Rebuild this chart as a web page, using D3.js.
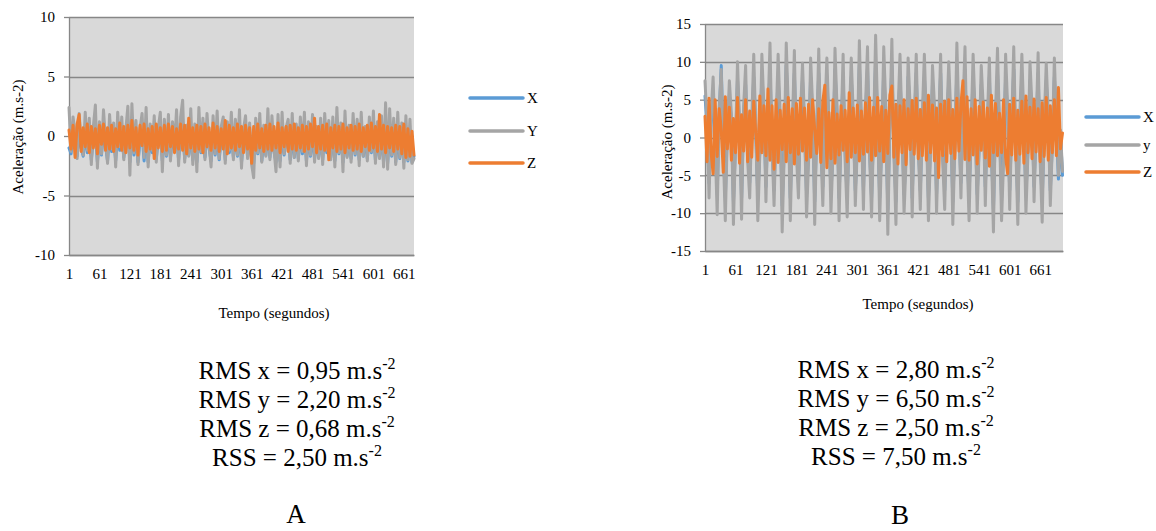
<!DOCTYPE html>
<html><head><meta charset="utf-8">
<script src="https://cdn.jsdelivr.net/npm/d3@7"></script>
<style>
body{margin:0;background:#fff;}
svg{display:block;}
svg text{font-family:"Liberation Serif","Times New Roman",Tinos,"DejaVu Serif",serif;}
</style></head><body>
<svg id="c" width="1156" height="531" font-family="Liberation Serif, Times New Roman, serif"></svg>
<script>
// ---------- data ----------
const xTickLabels = [1,61,121,181,241,301,361,421,481,541,601,661];
const yTicksA = [-10,-5,0,5,10];
const yTicksB = [-15,-10,-5,0,5,10,15];
const legendA = ["X","Y","Z"];
const legendB = ["X","y","Z"];
const sampleStep = 4; // seconds between plotted samples

// Chart A (samples every 4 s, t = 1 .. 681)
const aX = [
-1.0,-1.5,0.2,-0.5,-1.7,0.3,-1.0,-1.7,0.2,-1.4,
0.1,-2.0,-0.2,0.3,-2.2,0.0,-1.6,0.3,-0.8,-2.1,
0.2,-1.3,0.0,-2.1,0.3,-1.2,0.1,-1.8,-0.3,0.4,
-2.2,0.4,-1.6,0.0,-2.2,-0.4,0.2,-2.1,0.3,-2.2,
-0.1,-1.4,0.2,-1.9,-0.3,0.3,-2.1,0.1,-1.7,0.2,
-1.8,0.0,-1.1,0.3,-2.0,0.1,0.4,-1.9,-0.2,-1.6,
0.3,-2.0,-0.1,-2.2,0.3,-1.4,0.1,-1.8,0.2,-1.0,
-2.1,0.2,-1.6,0.3,-2.0,-0.2,0.1,-2.0,0.0,-1.4,
0.2,-1.8,0.1,-1.7,0.3,-2.2,-0.4,0.2,-1.7,0.0,
-2.0,-2.3,0.1,-1.5,0.2,-2.1,-0.2,-1.6,0.3,-1.8,
0.2,-1.3,-2.2,0.2,-2.1,0.3,-1.6,-0.3,0.1,-2.0,
0.2,-1.8,-0.1,-1.9,0.1,-1.5,0.3,-2.1,0.0,-1.7,
0.2,-1.9,-0.2,-1.8,0.1,-2.0,0.2,-1.4,0.0,-1.8,
0.1,-2.1,0.3,-1.5,0.0,-2.2,0.3,-1.7,-0.2,-1.9,
0.2,-1.6,0.1,-2.0,0.3,-1.7,-0.2,-1.9,0.1,-1.4,
0.3,-2.0,0.0,-1.8,0.2,-2.2,0.4,-2.3,0.3,-1.7,
0.1,-2.2,0.2,-1.9,0.0,-2.2,0.2,-2.1,0.0,-2.2,
-1.7];
const aY = [
2.4,-1.3,1.6,0.2,-1.9,1.9,-0.6,-1.6,2.0,-1.2,
1.5,-2.4,0.8,2.6,-2.7,1.2,-1.5,2.2,-0.4,-2.3,
1.8,-1.1,1.1,-2.6,2.0,-0.9,1.6,-2.0,0.5,2.5,
-3.3,2.7,-1.4,1.3,-2.4,0.6,1.9,-1.8,2.4,-2.6,
1.0,-1.2,1.7,-2.2,0.7,2.0,-3.0,1.4,-1.6,1.8,
-2.1,1.2,-0.8,2.2,-2.5,1.6,3.0,-2.2,0.9,-1.7,
2.3,-2.4,1.0,-3.0,2.4,-1.3,1.5,-2.0,1.9,-0.7,
-2.6,1.7,-1.5,2.1,-1.9,0.8,1.6,-2.3,1.2,-1.2,
2.0,-2.0,1.4,-1.6,2.2,-2.7,0.6,1.7,-1.9,1.1,
-2.4,-3.5,1.5,-1.4,1.9,-2.2,0.9,-1.7,2.3,-2.0,
1.7,-1.1,-3.0,1.8,-2.6,2.0,-1.5,0.7,1.4,-2.3,
1.9,-1.8,1.0,-2.1,1.6,-1.3,2.0,-2.5,1.2,-1.6,
1.8,-2.2,0.8,-1.9,1.5,-2.4,1.9,-1.2,1.3,-2.0,
1.6,-2.6,2.4,-1.4,1.1,-3.0,2.1,-1.8,0.9,-2.2,
1.9,-1.5,1.4,-2.5,2.0,-1.7,0.8,-2.1,1.6,-1.3,
2.1,-2.3,1.2,-1.9,1.7,-2.6,2.8,-2.8,2.3,-1.6,
1.5,-2.4,2.0,-1.8,1.1,-2.7,1.7,-2.0,1.4,-2.3,
-1.9];
const aZ = [
0.5,-1.1,0.9,-1.8,1.0,1.8,-1.3,0.7,-0.9,1.0,
-1.4,0.8,-1.0,0.6,-1.5,0.9,-0.7,1.0,-1.2,0.7,
-1.1,0.9,-1.3,0.6,-0.9,1.1,-1.2,0.8,-1.4,0.9,
-1.0,1.3,-1.2,0.7,-1.6,0.9,-0.8,1.0,-1.3,0.6,
-1.1,0.8,-1.9,1.0,-1.0,0.7,-1.3,0.9,-1.2,1.0,
-0.9,0.8,-1.4,0.6,-1.1,1.0,-1.2,0.9,-1.5,1.5,
-1.0,0.7,-1.3,0.9,-1.1,0.8,-1.4,1.0,-0.9,0.7,
-1.2,1.1,-1.0,0.8,-1.3,0.6,-1.1,1.3,-1.5,0.9,
-1.0,0.7,-1.2,1.0,-0.9,0.8,-1.4,0.9,-1.1,0.7,
-2.3,0.8,-1.2,1.0,-1.0,0.6,-1.3,0.9,-1.1,1.0,
-1.2,0.8,-1.0,1.1,-1.4,0.7,-0.9,0.8,-1.3,0.9,
-1.1,1.0,-1.2,0.7,-1.0,0.9,-1.3,0.8,-1.1,1.0,
-0.9,1.5,-1.4,0.8,-1.1,0.9,-1.2,1.0,-2.0,0.7,
-1.0,0.9,-1.3,0.8,-1.1,1.0,-1.4,0.7,-1.0,0.9,
-1.2,0.8,-1.1,1.0,-1.3,0.7,-0.9,0.9,-1.2,1.1,
-1.0,0.8,-1.3,1.8,-1.1,0.9,-1.4,0.8,-1.0,0.7,
-1.3,0.9,-1.1,0.8,-1.5,1.0,-1.8,0.6,-1.7,0.4,
-1.6];

// Chart B (samples every 4 s, t = 1 .. 705)
const bX = [
5.5,1.5,-6.0,2.0, 6.0,-1.0,-7.5,3.0,
9.5,-1.5,-8.0,1.0, 5.5,2.0,-8.5,-1.0,
7.5,1.5,-8.0,3.0, 7.0,-2.0,-6.0,1.5,
8.0,1.0,-8.0,-1.5, 8.5,3.0,-6.5,2.0,
9.0,-1.0,-7.0,1.5, 8.0,2.0,-9.0,-1.5,
9.5,3.0,-8.0,1.0, 8.5,-1.5,-6.0,2.0,
7.5,1.5,-7.5,-2.0, 8.0,3.0,-8.5,1.0,
8.5,-1.0,-6.5,2.0, 8.0,1.5,-7.5,-1.5,
9.0,3.0,-8.0,1.0, 8.0,-2.0,-8.0,1.5,
8.0,2.0,-7.0,-1.0, 9.5,1.5,-7.0,3.0,
9.0,-1.5,-8.0,1.0, 10.0,2.0,-8.0,-1.0,
9.0,3.0,-9.5,1.5, 9.5,-1.5,-8.5,2.0,
8.0,1.0,-7.5,-2.0, 8.0,3.0,-8.0,1.5,
8.5,-1.0,-7.0,2.0, 8.0,1.5,-8.0,-1.5,
7.0,3.0,-7.5,1.0, 8.5,-2.0,-7.0,1.5,
7.5,2.0,-8.5,-1.0, 9.0,1.5,-6.0,3.0,
9.0,-1.5,-8.0,1.0, 8.0,2.0,-7.5,-1.0,
7.0,3.0,-6.5,1.5, 8.0,-1.5,-9.5,2.0,
8.5,1.0,-8.0,-2.0, 8.0,3.0,-7.0,1.5,
9.0,-1.0,-8.5,2.0, 8.0,1.5,-7.5,-1.5,
7.5,3.0,-6.5,1.0, 8.5,-2.0,-8.5,1.5,
7.5,2.0,-7.0,-1.0, 8.0,1.5,-5.5,0.5,
-5.0];
const bY = [
7.5,2.0,-8.0,3.0, 8.0,-1.0,-10.2,4.0,
9.0,-2.0,-11.0,1.0, 7.5,3.0,-11.5,-1.0,
10.0,2.0,-10.8,4.0, 9.5,-3.0,-8.0,2.0,
11.0,1.0,-11.0,-2.0, 11.0,4.0,-8.5,3.0,
12.5,-1.0,-9.0,2.0, 11.0,3.0,-12.5,-2.0,
12.5,4.0,-11.0,1.0, 11.5,-2.0,-8.0,3.0,
9.8,2.0,-10.5,-3.0, 10.5,4.0,-11.5,1.0,
11.7,-1.0,-9.0,3.0, 10.5,2.0,-10.0,-2.0,
11.8,4.0,-11.0,1.0, 11.0,-3.0,-10.5,2.0,
10.5,3.0,-9.0,-1.0, 12.8,2.0,-9.5,4.0,
12.0,-2.0,-10.5,1.0, 13.5,3.0,-11.0,-1.0,
12.0,4.0,-12.8,2.0, 13.0,-2.0,-11.5,3.0,
11.0,1.0,-10.0,-3.0, 10.5,4.0,-10.5,2.0,
11.0,-1.0,-9.5,3.0, 11.0,2.0,-11.0,-2.0,
9.5,4.0,-10.0,1.0, 11.0,-3.0,-9.5,2.0,
10.0,3.0,-11.5,-1.0, 12.5,2.0,-8.0,4.0,
12.0,-2.0,-11.0,1.0, 11.0,3.0,-10.0,-1.0,
9.5,4.0,-9.0,2.0, 10.5,-2.0,-12.5,3.0,
11.8,1.0,-11.0,-3.0, 11.0,4.0,-9.5,2.0,
12.0,-1.0,-11.5,3.0, 11.0,2.0,-10.0,-2.0,
10.0,4.0,-8.5,1.0, 11.2,-3.0,-11.2,2.0,
9.8,3.0,-9.0,-1.0, 10.5,2.0,-5.0,1.0,
-4.5];
const bZ = [
2.8,-3.2,5.2,-2.0,-4.8,5.0,-2.5,3.8,1.0,-4.6,
5.4,-1.5,4.0,-3.0,2.5,-2.0,5.3,-3.4,3.0,-1.8,
5.0,-3.2,3.5,-2.6,4.8,0.5,-3.0,5.5,-2.0,4.2,
-2.4,6.4,-3.0,4.2,-4.2,5.0,-3.3,3.6,-1.6,4.4,
-3.2,5.3,-2.0,3.8,-3.5,4.5,-2.2,5.2,-1.8,3.9,
-3.0,4.4,-2.6,5.0,1.0,-2.1,3.8,-3.3,4.8,6.9,
-4.0,3.3,-2.8,5.0,-3.4,3.1,-2.3,4.2,-1.7,3.6,
-3.2,5.9,-2.6,3.9,-2.0,4.3,-3.1,3.5,-2.2,4.6,
-1.9,5.3,-3.0,4.0,-2.4,5.3,-1.8,4.1,-3.2,3.6,
-2.1,5.6,6.8,-2.6,4.4,-3.5,4.2,-2.0,5.0,-3.6,
3.8,-1.6,4.9,-2.2,5.2,-2.8,3.7,-2.4,4.6,-3.0,
5.6,-2.0,4.3,-3.1,3.9,-5.3,4.4,-2.4,4.8,-3.2,
5.0,-2.1,3.7,-2.8,5.2,-1.8,4.4,7.5,-2.9,5.4,
-3.0,3.8,-2.3,5.0,-3.5,4.1,-1.7,4.7,-2.7,3.9,
-3.8,5.6,-2.0,4.5,-2.4,3.2,-2.0,5.0,-2.6,-4.8,
4.4,-2.3,5.2,-3.0,3.6,-2.2,4.8,-3.4,5.5,-2.0,
4.0,-2.8,5.1,-1.9,3.8,-3.2,4.6,-2.5,5.3,-3.0,
4.2,-2.0,5.0,-2.4,6.6,-1.5,0.6];

const statsA = [["RMS x = 0,95 m.s","-2"],["RMS y = 2,20 m.s","-2"],["RMS z = 0,68 m.s","-2"],["RSS = 2,50 m.s","-2"]];
const statsB = [["RMS x = 2,80 m.s","-2"],["RMS y = 6,50 m.s","-2"],["RMS z = 2,50 m.s","-2"],["RSS = 7,50 m.s","-2"]];

const colors = ["#5B9BD5","#A5A5A5","#ED7D31"];
const gridColor = "#878787";
const FONT = "Liberation Serif, Times New Roman, Tinos, DejaVu Serif, serif";

// ---------- drawing ----------
const svg = d3.select("#c");

function drawChart(cfg){
  const g = svg.append("g").attr("font-family", FONT);
  const t = cfg.series[0].map((_, i) => 1 + i * sampleStep);
  const x = d3.scaleLinear().domain([1, cfg.tMax]).range([cfg.left, cfg.right]);
  const y = d3.scaleLinear().domain([cfg.yTicks[0], cfg.yTicks[cfg.yTicks.length-1]]).range([cfg.bottom, cfg.top]);

  g.append("rect").attr("x", cfg.left).attr("y", cfg.top)
    .attr("width", cfg.right - cfg.left).attr("height", cfg.bottom - cfg.top)
    .attr("fill", "#D9D9D9");

  g.selectAll("line.grid").data(cfg.yTicks).enter().append("line")
    .attr("x1", cfg.left).attr("x2", cfg.right)
    .attr("y1", d => Math.round(y(d)) + 0.5).attr("y2", d => Math.round(y(d)) + 0.5)
    .attr("stroke", gridColor).attr("stroke-width", 1.3);

  const yAxis = g.append("g").attr("transform", `translate(${cfg.left},0)`)
    .call(d3.axisLeft(y).tickValues(cfg.yTicks).tickFormat(d => String(d))
      .tickSize(5).tickPadding(9).tickSizeOuter(0));
  yAxis.attr("font-family", FONT);
  yAxis.select(".domain").attr("stroke", gridColor).attr("stroke-width", 1.3);
  yAxis.selectAll(".tick line").attr("stroke", gridColor).attr("stroke-width", 1.3);
  yAxis.selectAll("text").attr("font-size", 15).attr("fill", "#000").attr("font-family", FONT);

  const xAxis = g.append("g").attr("transform", `translate(0,${cfg.bottom})`)
    .call(d3.axisBottom(x).tickValues(xTickLabels).tickFormat(d => String(d))
      .tickSize(0).tickPadding(13).tickSizeOuter(0));
  xAxis.attr("font-family", FONT);
  xAxis.select(".domain").attr("stroke", gridColor).attr("stroke-width", 1.3);
  xAxis.selectAll("text").attr("font-size", 15).attr("fill", "#000").attr("font-family", FONT);

  const line = d3.line().x((d, i) => x(t[i])).y(d => y(d));
  cfg.series.forEach((s, k) => {
    g.append("path").datum(s).attr("d", line)
      .attr("fill", "none").attr("stroke", colors[k])
      .attr("stroke-width", 3).attr("stroke-linejoin", "round").attr("stroke-linecap", "round");
  });

  g.append("text").attr("transform", `translate(${cfg.yTitleX},${cfg.yTitleY}) rotate(-90)`)
    .attr("text-anchor", "middle").attr("dy", "0.35em").attr("font-size", 15)
    .text("Aceleração (m.s-2)");
  g.append("text").attr("x", cfg.xTitleX).attr("y", cfg.xTitleY)
    .attr("text-anchor", "middle").attr("dy", "0.35em").attr("font-size", 15)
    .text("Tempo (segundos)");

  const lg = g.selectAll("g.leg").data(cfg.legend).enter().append("g")
    .attr("transform", (d, i) => `translate(${cfg.legX},${cfg.legY[i]})`);
  lg.append("line").attr("x1", 0).attr("x2", 53).attr("y1", 0).attr("y2", 0)
    .attr("stroke", (d, i) => colors[i]).attr("stroke-width", 3.5).attr("stroke-linecap", "round");
  lg.append("text").attr("x", 57).attr("dy", "0.35em").attr("font-size", 15).text(d => d);

  cfg.stats.forEach((s, i) => {
    const tx = g.append("text").attr("x", cfg.statsX).attr("y", cfg.statsY + i * 29)
      .attr("text-anchor", "middle").attr("font-size", 25);
    tx.append("tspan").text(s[0]);
    tx.append("tspan").attr("font-size", 16).attr("dy", -10).text(s[1]);
  });
  g.append("text").attr("x", cfg.letterX).attr("y", cfg.letterY)
    .attr("text-anchor", "middle").attr("font-size", 27).text(cfg.letter);
}

drawChart({
  series: [aX, aY, aZ], tMax: 681, yTicks: yTicksA, legend: legendA,
  left: 69, right: 414, top: 17, bottom: 255,
  yTitleX: 18, yTitleY: 137, xTitleX: 274, xTitleY: 313,
  legX: 470, legY: [98, 131, 163],
  stats: statsA, statsX: 297, statsY: 379, letter: "A", letterX: 296, letterY: 523
});
drawChart({
  series: [bX, bY, bZ], tMax: 706, yTicks: yTicksB, legend: legendB,
  left: 705, right: 1063, top: 24, bottom: 251,
  yTitleX: 667, yTitleY: 142, xTitleX: 918, xTitleY: 304,
  legX: 1086, legY: [117, 145, 172],
  stats: statsB, statsX: 896, statsY: 378, letter: "B", letterX: 900, letterY: 524
});
</script>
</body></html>
